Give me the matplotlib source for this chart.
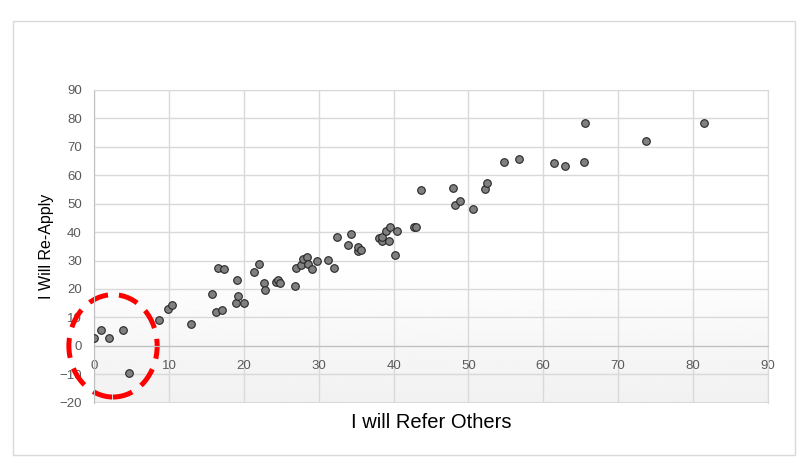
import matplotlib
matplotlib.use("Agg")
import matplotlib.pyplot as plt
import numpy as np
from matplotlib.patches import Ellipse, Rectangle

# survey scores
refer_others = [
    0.0, 0.9, 1.9, 3.9, 4.7, 8.7, 9.9, 10.4, 12.9, 15.7,
    16.2, 16.5, 17.1, 17.3, 19.1, 18.9, 19.2, 20.0, 21.3, 22.0,
    22.7, 22.8, 24.3, 24.6, 24.8, 26.8, 27.0, 27.6, 27.9, 28.4,
    28.6, 29.1, 29.8, 31.2, 32.1, 32.5, 33.9, 34.3, 35.2, 35.3,
    35.7, 38.1, 38.5, 38.5, 39.0, 39.4, 39.5, 40.2, 40.5, 42.7,
    43.0, 43.6, 48.0, 48.2, 48.9, 50.6, 52.2, 52.5, 54.7, 56.7,
    61.5, 62.9, 65.4, 65.6, 73.7, 81.5,
]
re_apply = [
    2.9, 5.7, 2.9, 5.6, -9.4, 9.2, 13.1, 14.5, 7.8, 18.4,
    12.0, 27.5, 12.7, 27.2, 23.3, 15.2, 17.7, 15.2, 26.1, 28.9,
    22.0, 19.8, 22.6, 23.0, 22.1, 21.2, 27.5, 28.3, 30.6, 31.4,
    28.9, 27.0, 30.0, 30.3, 27.5, 38.4, 35.6, 39.5, 33.4, 34.7,
    33.8, 38.1, 36.9, 38.4, 40.4, 37.0, 41.9, 32.1, 40.5, 41.9,
    41.9, 54.9, 55.6, 49.7, 51.1, 48.3, 55.3, 57.4, 64.8, 65.8,
    64.4, 63.4, 64.8, 78.5, 72.2, 78.5,
]
x_ticks = list(range(0, 91, 10))
y_ticks = list(range(-20, 91, 10))

# highlighted cluster near the origin
circle_center = (2.5, 0)
circle_size = (11.8, 36)

plt.rcParams["font.family"] = ["Liberation Sans", "DejaVu Sans"]

fig = plt.figure(figsize=(8.11, 4.66), dpi=100)
fig.patches.append(Rectangle((13 / 811, 1 - 455 / 466), 782 / 811, 434 / 466,
                             transform=fig.transFigure, fill=False,
                             edgecolor="#d9d9d9", linewidth=1))

ax = fig.add_axes([0.1163, 0.1358, 0.8303, 0.6711])
ax.set_xlim(0, 90)
ax.set_ylim(-20, 90)

# plot area gradient: white at top, light gray at bottom
yy = np.linspace(90, -20, 200)
shade = np.where(yy > 30, 1.0, 1.0 - (30 - yy) / 50 * 0.055)
grad = np.repeat(shade[:, None], 2, axis=1)
ax.imshow(grad, extent=[0, 90, -20, 90], aspect="auto", cmap="gray",
          vmin=0, vmax=1, zorder=0)

ax.set_xticks(x_ticks)
ax.set_yticks(y_ticks)
ax.grid(True, color="#d9d9d9", linewidth=1, zorder=1)
ax.set_axisbelow(True)

for side in ["top", "right"]:
    ax.spines[side].set_color("#d9d9d9")
ax.spines["left"].set_color("#bfbfbf")
ax.spines["bottom"].set_position(("data", 0))
ax.spines["bottom"].set_color("#bfbfbf")
ax.axhline(-20, color="#d9d9d9", linewidth=1.5, zorder=1)

ax.tick_params(length=0, labelsize=9.5, colors="#595959")
ax.tick_params(axis="x", pad=10)
ax.tick_params(axis="y", pad=9)

ax.scatter(refer_others, re_apply, s=30, color="#808080",
           edgecolors="#262626", linewidths=0.8, zorder=3)

ring = Ellipse(circle_center, circle_size[0], circle_size[1], fill=False,
               edgecolor="#ff0000", linewidth=3.6, linestyle=(0, (4, 2.2)),
               clip_on=False, zorder=1.5)
ax.add_patch(ring)

fig.text(431 / 811, 1 - 422 / 466, "I will Refer Others", ha="center",
         va="center", fontsize=14.5)
fig.text(46 / 811, 1 - 246 / 466, "I Will Re-Apply", ha="center",
         va="center", rotation=90, fontsize=11.5)

fig.savefig("out.png", dpi=100)
